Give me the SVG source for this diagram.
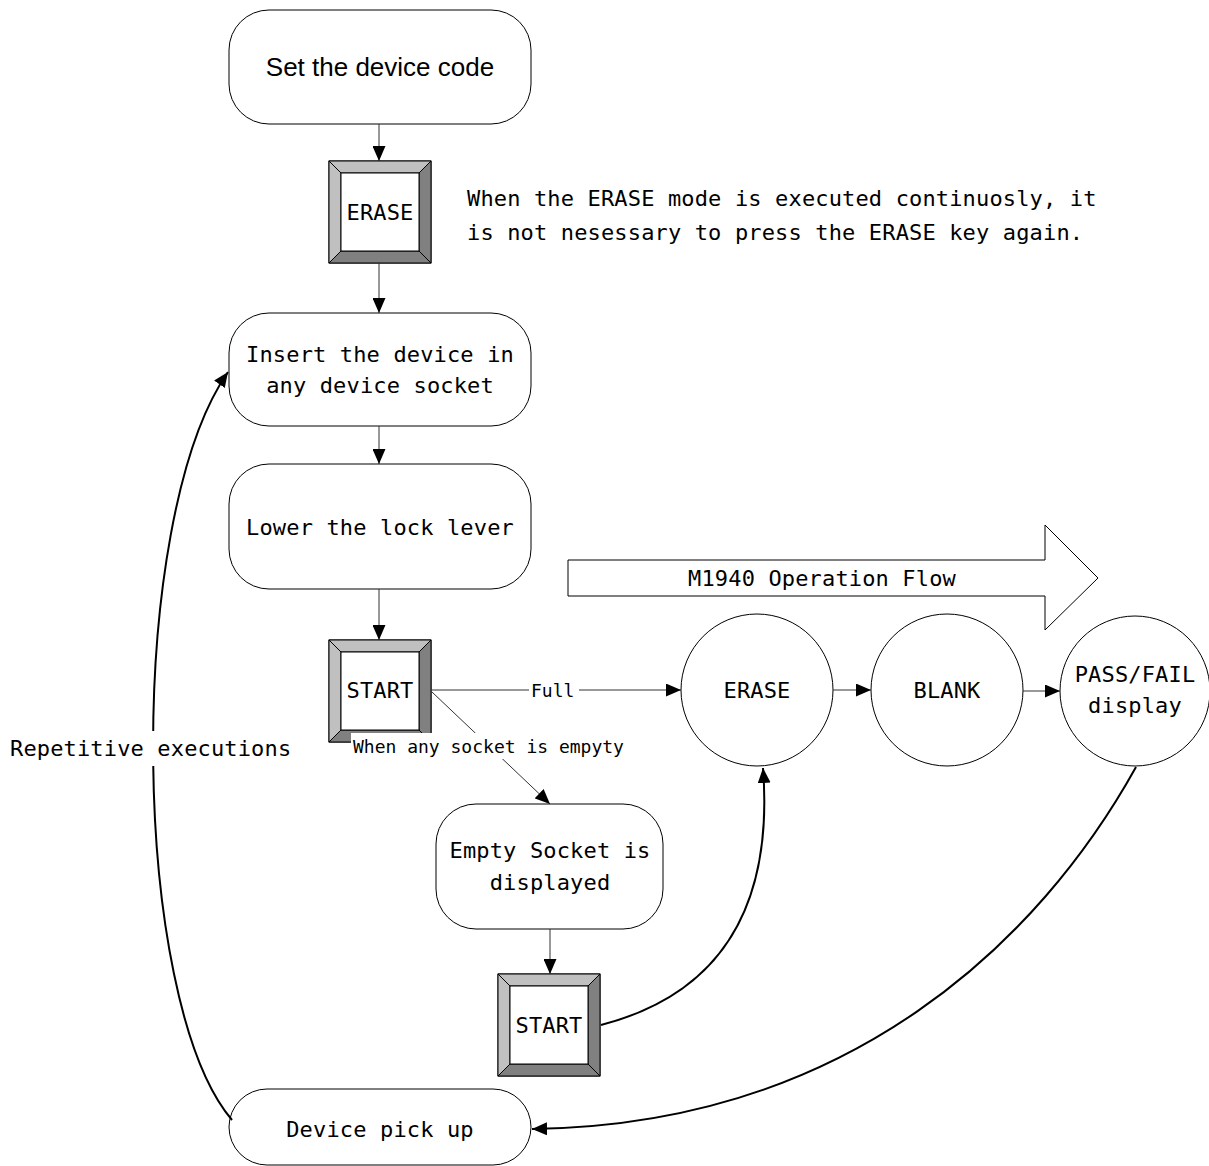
<svg xmlns="http://www.w3.org/2000/svg" xmlns:xlink="http://www.w3.org/1999/xlink" width="1209" height="1166" viewBox="0 0 1209 1166">
<style>
.box{fill:#fff;stroke:#000;stroke-width:1}
.circ{fill:#fff;stroke:#000;stroke-width:1}
.t{font-family:"DejaVu Sans Mono","Liberation Mono",monospace;font-size:22px;fill:#000;letter-spacing:0.15px}
.ts{font-family:"DejaVu Sans Mono","Liberation Mono",monospace;font-size:18px;fill:#000}
.ta{font-family:"Liberation Sans",Arial,sans-serif;font-size:26px;fill:#000}
.mid{text-anchor:middle}
.ln{fill:none;stroke:#333;stroke-width:1}
.cv{fill:none;stroke:#000;stroke-width:2}
.bg{fill:#fff}
</style>
<defs>
<marker id="ah" markerUnits="userSpaceOnUse" markerWidth="16" markerHeight="13" refX="15" refY="6.5" orient="auto">
<path d="M0,0 L15,6.5 L0,13 z" fill="#000"/>
</marker>
<g id="key">
<rect x="0" y="0" width="102" height="102" fill="#fff" stroke="#000"/>
<polygon points="0,0 102,0 90,12 12,12" fill="#c0c0c0" stroke="#000" stroke-width="1"/>
<polygon points="0,0 12,12 12,90 0,102" fill="#c0c0c0" stroke="#000" stroke-width="1"/>
<polygon points="102,0 102,102 90,90 90,12" fill="#808080" stroke="#000" stroke-width="1"/>
<polygon points="0,102 12,90 90,90 102,102" fill="#808080" stroke="#000" stroke-width="1"/>
<rect x="12" y="12" width="78" height="78" fill="#fff" stroke="#000"/>
</g>
</defs>
<rect width="1209" height="1166" fill="#fff"/>

<g id="n-setcode">
<rect class="box" x="229" y="10" width="302" height="114" rx="40"/>
<text class="ta mid" x="380" y="76">Set the device code</text>
</g>
<g id="n-erasekey">
<use xlink:href="#key" x="329" y="161"/>
<text class="t mid" x="380" y="220">ERASE</text>
</g>
<g id="n-note">
<text class="t" x="467" y="206">When the ERASE mode is executed continuosly, it</text>
<text class="t" x="467" y="240">is not nesessary to press the ERASE key again.</text>
</g>
<g id="n-insert">
<rect class="box" x="229" y="313" width="302" height="113" rx="40"/>
<text class="t mid" x="380" y="362">Insert the device in</text>
<text class="t mid" x="380" y="393">any device socket</text>
</g>
<g id="n-lower">
<rect class="box" x="229" y="464" width="302" height="125" rx="40"/>
<text class="t mid" x="380" y="535">Lower the lock lever</text>
</g>
<g id="n-start1">
<use xlink:href="#key" x="329" y="640"/>
<text class="t mid" x="380" y="698">START</text>
</g>
<g id="n-flowarrow">
<polygon points="568,560 1045,560 1045,525 1098,578 1045,630 1045,596 568,596" fill="#fff" stroke="#000" stroke-width="1"/>
<text class="t mid" x="822" y="586">M1940 Operation Flow</text>
</g>
<g id="n-erase">
<circle class="circ" cx="757" cy="690" r="76"/>
<text class="t mid" x="757" y="698">ERASE</text>
</g>
<g id="n-blank">
<circle class="circ" cx="947" cy="690" r="76"/>
<text class="t mid" x="947" y="698">BLANK</text>
</g>
<g id="n-passfail">
<circle class="circ" cx="1135" cy="691" r="75"/>
<text class="t mid" x="1135" y="682">PASS/FAIL</text>
<text class="t mid" x="1135" y="713">display</text>
</g>
<g id="n-empty">
<rect class="box" x="436" y="804" width="227" height="125" rx="40"/>
<text class="t mid" x="550" y="858">Empty Socket is</text>
<text class="t mid" x="550" y="890">displayed</text>
</g>
<g id="n-start2">
<use xlink:href="#key" x="498" y="974"/>
<text class="t mid" x="549" y="1033">START</text>
</g>
<g id="n-pickup">
<rect class="box" x="229" y="1089" width="302" height="76" rx="38"/>
<text class="t mid" x="380" y="1137">Device pick up</text>
</g>

<g id="connectors">
<line class="ln" x1="379" y1="124" x2="379" y2="161" marker-end="url(#ah)"/>
<line class="ln" x1="379" y1="263" x2="379" y2="313" marker-end="url(#ah)"/>
<line class="ln" x1="379" y1="426" x2="379" y2="464" marker-end="url(#ah)"/>
<line class="ln" x1="379" y1="589" x2="379" y2="640" marker-end="url(#ah)"/>
<line class="ln" x1="431" y1="690" x2="681" y2="690" marker-end="url(#ah)"/>
<rect class="bg" x="529" y="678" width="50" height="24"/>
<text class="ts" x="531" y="697">Full</text>
<line class="ln" x1="432" y1="692" x2="550" y2="804" marker-end="url(#ah)"/>
<rect class="bg" x="351" y="733" width="278" height="26"/>
<text class="ts" x="353" y="753">When any socket is empyty</text>
<line class="ln" x1="550" y1="929" x2="550" y2="974" marker-end="url(#ah)"/>
<line class="ln" x1="833" y1="690" x2="871" y2="690" marker-end="url(#ah)"/>
<line class="ln" x1="1023" y1="691" x2="1060" y2="691" marker-end="url(#ah)"/>
<path class="cv" d="M601,1025 C755,985 770,860 763,768" marker-end="url(#ah)"/>
<path class="cv" d="M1136,767 C1040,940 850,1125 532,1129" marker-end="url(#ah)"/>
<path class="cv" d="M232,1120 C130,1000 125,520 228,372" marker-end="url(#ah)"/>
<rect class="bg" x="8" y="731" width="288" height="35"/>
<text class="t" x="10" y="756">Repetitive executions</text>
</g>
</svg>
